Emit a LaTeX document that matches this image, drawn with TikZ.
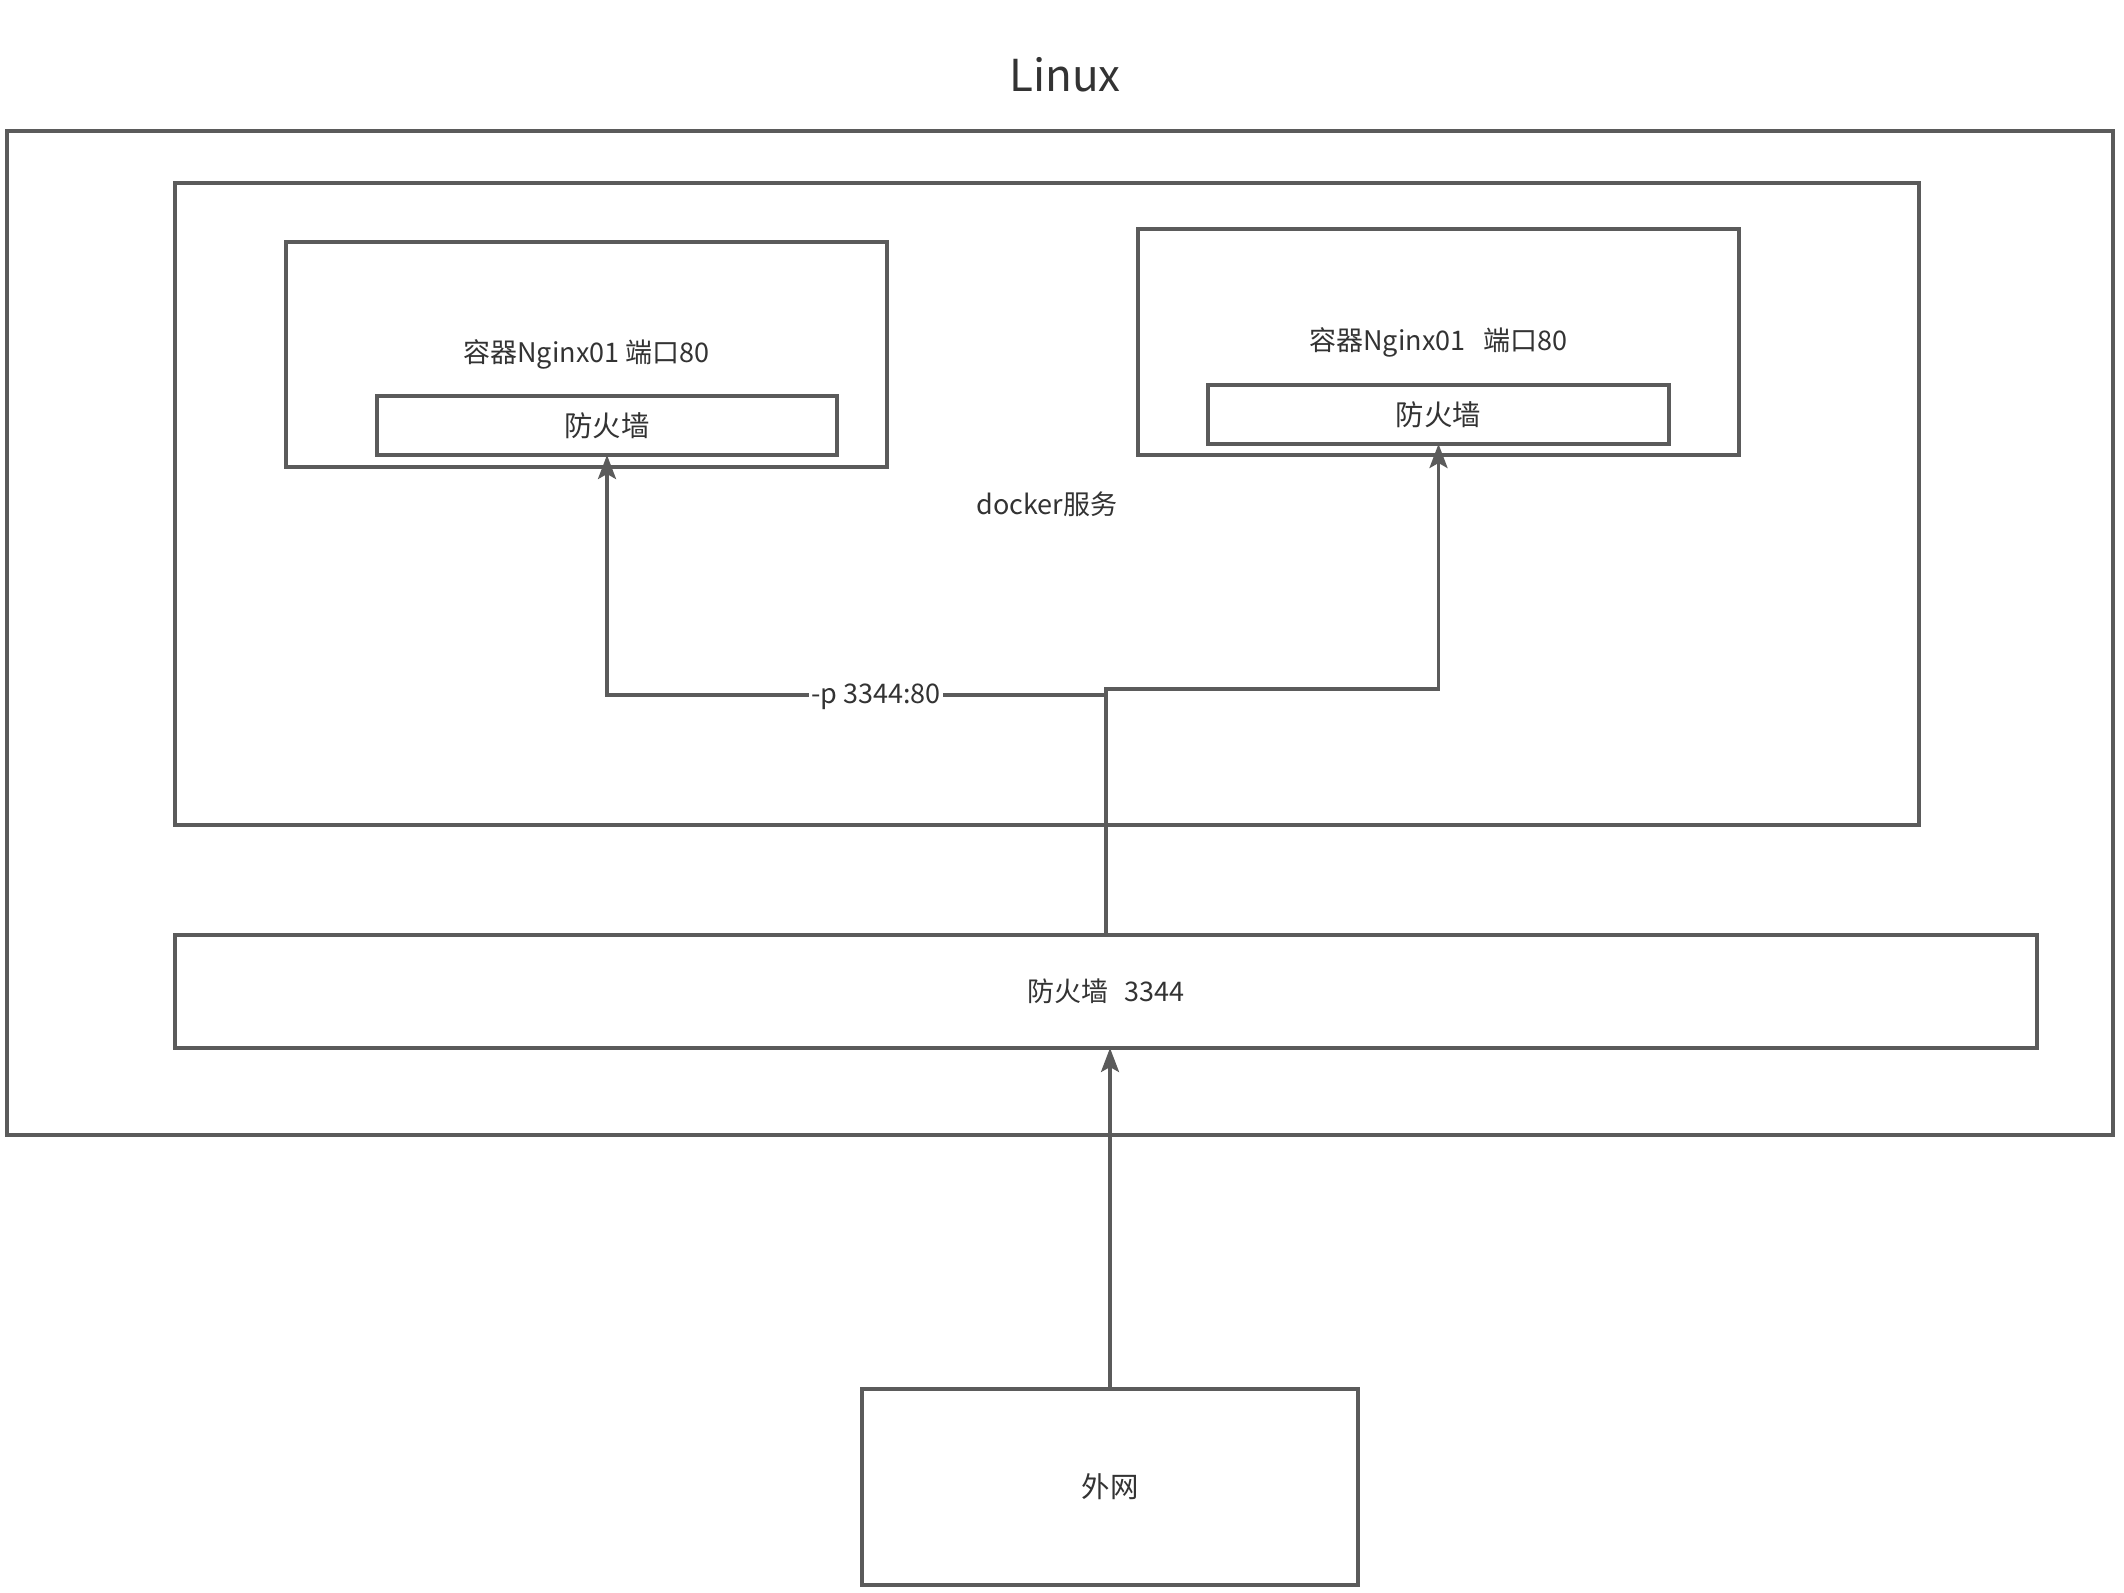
\documentclass[tikz,border=0pt]{standalone}
\usepackage{fontspec}
\setmainfont{Noto Sans CJK SC}
\usetikzlibrary{arrows.meta}
\definecolor{ln}{HTML}{5B5B5B}
\definecolor{tx}{HTML}{333333}
\begin{document}
\begin{tikzpicture}[x=0.5pt,y=-0.5pt,
  box/.style={draw=ln, line width=1.6pt, inner sep=0pt, outer sep=0pt, text=tx, font=\fontsize{13.5}{16}\selectfont},
  bigtext/.style={font=\fontsize{14.2}{17}\selectfont},
  conn/.style={draw=ln, line width=1.6pt, -{Stealth[length=12pt,width=9pt,inset=2.5pt]}},
  lbl/.style={text=tx, font=\fontsize{13.5}{16}\selectfont}]
\fill[white] (0,0) rectangle (2124,1592);
\useasboundingbox (0,0) rectangle (2124,1592);
\node[text=tx, font=\fontsize{22}{26}\selectfont] (title) at (1065,75) {Linux};
\node[box, minimum width=1053pt, minimum height=502pt] (linux) at (1060,633) {};
\node[box, minimum width=872pt, minimum height=321pt] (docker) at (1047,504) {docker服务};
\node[box, minimum width=300.5pt, minimum height=112.5pt] (c1) at (586.5,354.5) {容器Nginx01 端口80};
\node[box, bigtext, minimum width=230pt, minimum height=29.5pt] (fw1) at (607,425.5) {防火墙};
\node[box, minimum width=300.5pt, minimum height=113pt] (c2) at (1438.5,342) {容器Nginx01\ \ \ 端口80};
\node[box, bigtext, minimum width=230.5pt, minimum height=29.5pt] (fw2) at (1438.5,414.5) {防火墙};
\node[box, minimum width=931pt, minimum height=56.5pt] (fw3344) at (1106,991.5) {防火墙\hspace{0.6em}3344};
\node[box, bigtext, minimum width=248pt, minimum height=98pt] (wan) at (1110,1487) {外网};
\draw[conn] (wan.north) -- (wan.north |- fw3344.south);
\draw[conn] (fw3344.north) -- ++(0,-240) -| (fw1.south);
\draw[conn] (fw3344.north) -- ++(0,-246) -| (fw2.south);
\node[lbl, fill=white, inner sep=1pt] (plabel) at (876,697) {-p 3344:80};
\end{tikzpicture}
\end{document}
